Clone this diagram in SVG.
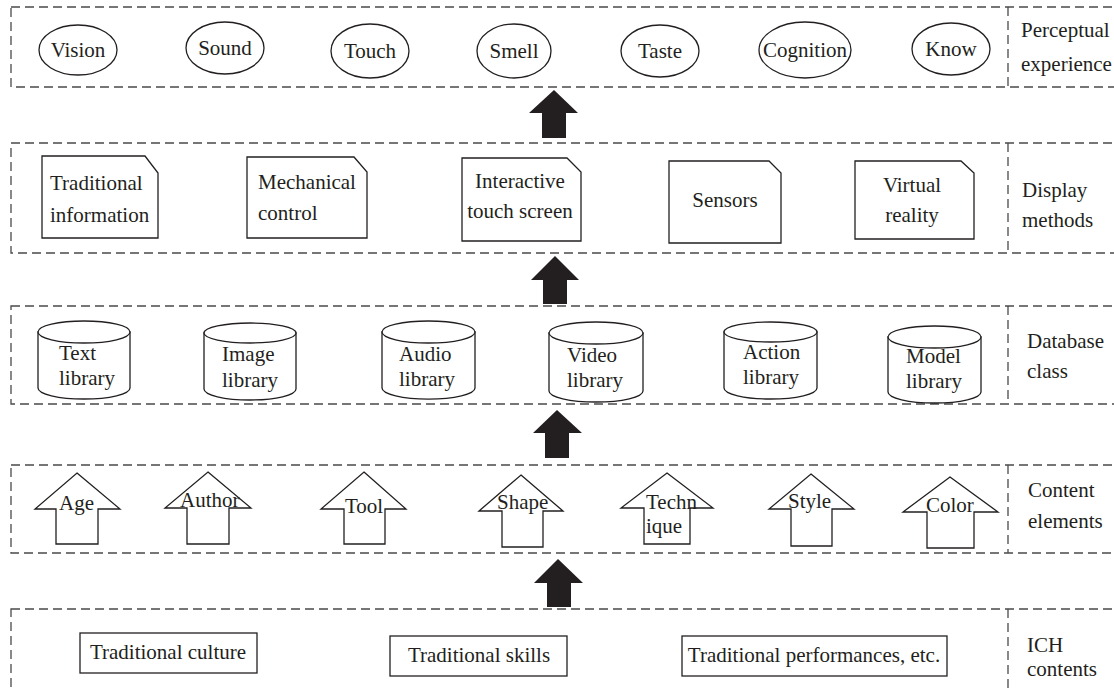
<svg xmlns="http://www.w3.org/2000/svg" width="1114" height="690" viewBox="0 0 1114 690">
<style>
.layer{fill:none;stroke:#4a4a4a;stroke-width:1.3;stroke-dasharray:9 5}
.shape{fill:#fff;stroke:#231f20;stroke-width:1.3}
.t{font-family:"Liberation Serif","Times New Roman",serif;font-size:21px;fill:#231f20}
.m{text-anchor:middle}
.big{fill:#231f20;stroke:none}
</style>
<rect width="1114" height="690" fill="#fff"/>
<g id="layers">
<rect class="layer" x="11" y="7" width="1115" height="80"/>
<line class="layer" x1="1008" y1="7" x2="1008" y2="87"/>
<rect class="layer" x="11" y="143" width="1115" height="110"/>
<line class="layer" x1="1008" y1="143" x2="1008" y2="253"/>
<rect class="layer" x="11" y="306" width="1115" height="98"/>
<line class="layer" x1="1008" y1="306" x2="1008" y2="404"/>
<rect class="layer" x="11" y="465" width="1115" height="88"/>
<line class="layer" x1="1008" y1="465" x2="1008" y2="553"/>
<rect class="layer" x="11" y="609" width="1115" height="100"/>
<line class="layer" x1="1008" y1="609" x2="1008" y2="700"/>
</g>
<g id="layer-labels">
<text class="t" x="1021" y="37">Perceptual</text>
<text class="t" x="1021" y="71">experience</text>
<text class="t" x="1022" y="197">Display</text>
<text class="t" x="1022" y="227">methods</text>
<text class="t" x="1027" y="348">Database</text>
<text class="t" x="1027" y="378">class</text>
<text class="t" x="1028" y="497">Content</text>
<text class="t" x="1028" y="528">elements</text>
<text class="t" x="1027" y="652">ICH</text>
<text class="t" x="1027" y="676">contents</text>
</g>
<g id="connectors">
<path class="big" d="M554,90 L578,113 L566,113 L566,138 L542,138 L542,113 L529,113 Z"/>
<path class="big" d="M555,256 L579,280 L567,280 L567,304 L543,304 L543,280 L531,280 Z"/>
<path class="big" d="M557,410 L582,433 L569,433 L569,458 L545,458 L545,433 L533,433 Z"/>
<path class="big" d="M558,559 L583,583 L571,583 L571,607 L547,607 L547,583 L534,583 Z"/>
</g>
<g id="vision"><ellipse class="shape" cx="78" cy="50" rx="39" ry="25"/><text class="t m" x="78" y="57">Vision</text></g>
<g id="sound"><ellipse class="shape" cx="225" cy="48" rx="39" ry="26"/><text class="t m" x="225" y="55">Sound</text></g>
<g id="touch"><ellipse class="shape" cx="370" cy="51" rx="39" ry="27"/><text class="t m" x="370" y="58">Touch</text></g>
<g id="smell"><ellipse class="shape" cx="514" cy="51" rx="37" ry="27"/><text class="t m" x="514" y="58">Smell</text></g>
<g id="taste"><ellipse class="shape" cx="660" cy="51" rx="39" ry="26"/><text class="t m" x="660" y="58">Taste</text></g>
<g id="cognition"><ellipse class="shape" cx="805" cy="50" rx="46" ry="28"/><text class="t m" x="805" y="57">Cognition</text></g>
<g id="know"><ellipse class="shape" cx="951" cy="49" rx="39" ry="26"/><text class="t m" x="951" y="56">Know</text></g>
<g id="traditional-information"><path class="shape" d="M42,156 L145,156 L158,173 L158,238 L42,238 Z"/><text class="t" x="50" y="190">Traditional</text><text class="t" x="50" y="222">information</text></g>
<g id="mechanical-control"><path class="shape" d="M247,157 L354,157 L367,172 L367,238 L247,238 Z"/><text class="t" x="258" y="189">Mechanical</text><text class="t" x="258" y="220">control</text></g>
<g id="interactive-touch-screen"><path class="shape" d="M462,158 L567,158 L581,172 L581,241 L462,241 Z"/><text class="t m" x="520" y="188">Interactive</text><text class="t m" x="520" y="218">touch screen</text></g>
<g id="sensors"><path class="shape" d="M669,161 L769,161 L781,173 L781,243 L669,243 Z"/><text class="t m" x="725" y="207">Sensors</text></g>
<g id="virtual-reality"><path class="shape" d="M855,161 L961,161 L974,173 L974,239 L855,239 Z"/><text class="t m" x="912" y="192">Virtual</text><text class="t m" x="912" y="222">reality</text></g>
<g id="text-library"><path class="shape" d="M38,332 L38,388 A46 11 0 0 0 130,388 L130,332 Z"/><ellipse class="shape" cx="84" cy="332" rx="46" ry="11"/><text class="t" x="59" y="360">Text</text><text class="t" x="59" y="385">library</text></g>
<g id="image-library"><path class="shape" d="M204,333 L204,389 A46 11 0 0 0 296,389 L296,333 Z"/><ellipse class="shape" cx="250" cy="333" rx="46" ry="10"/><text class="t" x="222" y="361">Image</text><text class="t" x="222" y="387">library</text></g>
<g id="audio-library"><path class="shape" d="M382,332 L382,388 A46 11 0 0 0 475,388 L475,332 Z"/><ellipse class="shape" cx="428.5" cy="332" rx="46.5" ry="11"/><text class="t" x="399" y="361">Audio</text><text class="t" x="399" y="386">library</text></g>
<g id="video-library"><path class="shape" d="M549,333 L549,391 A47 11 0 0 0 643,391 L643,333 Z"/><ellipse class="shape" cx="596" cy="333" rx="47" ry="11"/><text class="t" x="567" y="362">Video</text><text class="t" x="567" y="387">library</text></g>
<g id="action-library"><path class="shape" d="M724,332 L724,388 A46.5 11 0 0 0 817,388 L817,332 Z"/><ellipse class="shape" cx="770.5" cy="332" rx="46.5" ry="10"/><text class="t" x="743" y="359">Action</text><text class="t" x="743" y="384">library</text></g>
<g id="model-library"><path class="shape" d="M888,337 L888,392 A46.5 11 0 0 0 981,392 L981,337 Z"/><ellipse class="shape" cx="934.5" cy="337" rx="46.5" ry="11"/><text class="t" x="906" y="363">Model</text><text class="t" x="906" y="388">library</text></g>
<g id="age"><path class="shape" d="M77,473 L120,509 L98,509 L98,544 L56,544 L56,509 L35,509 Z"/><text class="t" x="59" y="510">Age</text></g>
<g id="author"><path class="shape" d="M208,472 L251,508 L229,508 L229,544 L187,544 L187,508 L165,508 Z"/><text class="t" x="180" y="507">Author</text></g>
<g id="tool"><path class="shape" d="M364,472 L406,509 L385,509 L385,544 L344,544 L344,509 L321,509 Z"/><text class="t" x="345" y="513">Tool</text></g>
<g id="shape"><path class="shape" d="M521,475 L563,511 L543,511 L543,547 L502,547 L502,511 L479,511 Z"/><text class="t" x="497" y="509">Shape</text></g>
<g id="technique"><path class="shape" d="M667,473 L713,508 L690,508 L690,544 L644,544 L644,508 L621,508 Z"/><text class="t" x="646" y="509">Techn</text><text class="t" x="646" y="533">ique</text></g>
<g id="style"><path class="shape" d="M811,474 L854,509 L832,509 L832,546 L791,546 L791,509 L769,509 Z"/><text class="t" x="788" y="508">Style</text></g>
<g id="color"><path class="shape" d="M950,477 L998,512 L974,512 L974,548 L927,548 L927,512 L903,512 Z"/><text class="t" x="926" y="512">Color</text></g>
<g id="traditional-culture"><rect class="shape" x="80" y="633" width="177" height="40"/><text class="t m" x="168" y="659">Traditional culture</text></g>
<g id="traditional-skills"><rect class="shape" x="390" y="636" width="177" height="40"/><text class="t m" x="479" y="662">Traditional skills</text></g>
<g id="traditional-performances"><rect class="shape" x="682" y="636" width="265" height="40"/><text class="t m" x="814" y="662">Traditional performances, etc.</text></g>
</svg>
